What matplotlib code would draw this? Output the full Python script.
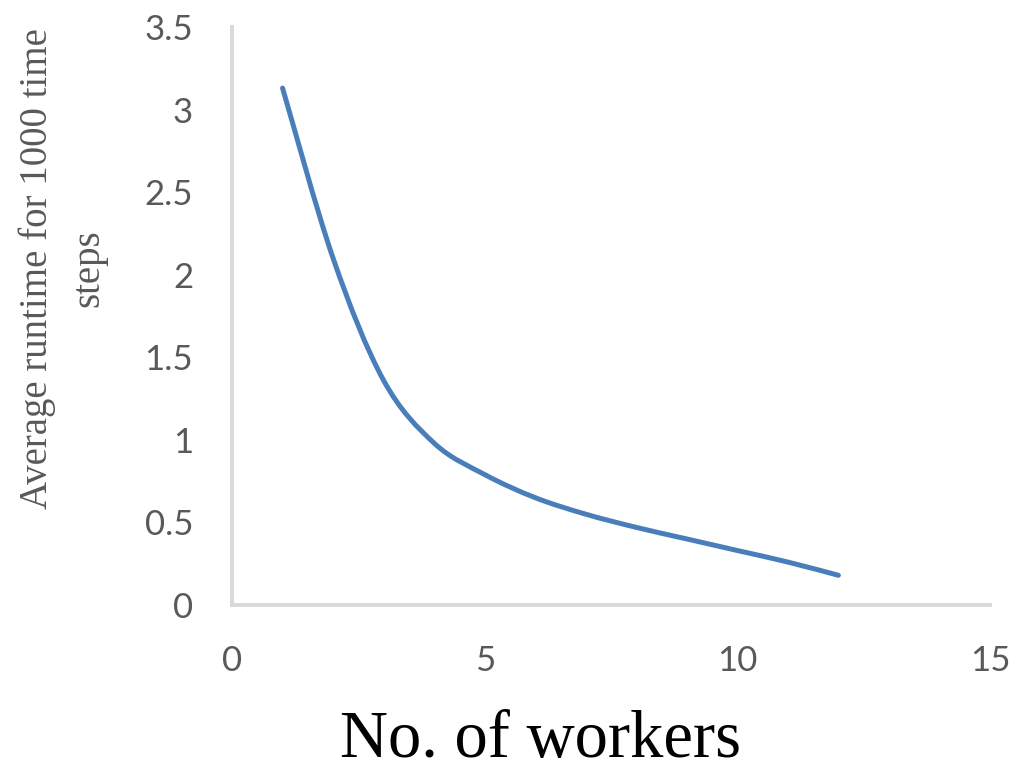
import matplotlib
matplotlib.use("Agg")
import matplotlib.pyplot as plt
from matplotlib.path import Path
from matplotlib.patches import PathPatch

# runtime measurements
workers = [1, 2, 3, 4, 5, 6, 7, 8, 9, 10, 11, 12]
runtime = [3.13, 2.1, 1.36, 0.98, 0.79, 0.65, 0.55, 0.47, 0.40, 0.33, 0.26, 0.18]

xticks = [0, 5, 10, 15]
yticks = [0, 0.5, 1, 1.5, 2, 2.5, 3, 3.5]
ytick_labels = ["0", "0.5", "1", "1.5", "2", "2.5", "3", "3.5"]

LINE = "#4a7ebb"
AXIS = "#d9d9d9"
TICK = "#595959"


def smooth_path(xs, ys):
    # cubic bezier through the points, spreadsheet-style smoothing
    pts = list(zip(xs, ys))
    n = len(pts)
    verts = [pts[0]]
    codes = [Path.MOVETO]
    for i in range(n - 1):
        p0 = pts[max(i - 1, 0)]
        p1 = pts[i]
        p2 = pts[i + 1]
        p3 = pts[min(i + 2, n - 1)]
        c1 = (p1[0] + (p2[0] - p0[0]) / 6, p1[1] + (p2[1] - p0[1]) / 6)
        c2 = (p2[0] - (p3[0] - p1[0]) / 6, p2[1] - (p3[1] - p1[1]) / 6)
        verts += [c1, c2, p2]
        codes += [Path.CURVE4] * 3
    return Path(verts, codes)


fig = plt.figure(figsize=(10.19, 7.71), dpi=100)
ax = fig.add_axes([0.2277, 0.2153, 0.7438, 0.7497])

ax.add_patch(PathPatch(smooth_path(workers, runtime), facecolor="none",
                       edgecolor=LINE, lw=3.6, capstyle="round"))

ax.set_xlim(0, 15)
ax.set_ylim(0, 3.5)
ax.set_xticks(xticks)
ax.set_yticks(yticks)
ax.set_yticklabels(ytick_labels)

for s in ["top", "right"]:
    ax.spines[s].set_visible(False)
for s in ["left", "bottom"]:
    ax.spines[s].set_color(AXIS)
    ax.spines[s].set_linewidth(2.8)

ax.tick_params(axis="both", length=0, labelsize=25, labelcolor=TICK)
ax.tick_params(axis="y", pad=28)
ax.tick_params(axis="x", pad=29)
for lab in ax.get_xticklabels() + ax.get_yticklabels():
    lab.set_family("Lato")

fig.text(0.53, 0.04, "No. of workers", ha="center", va="center",
         family="Liberation Serif", fontsize=48)
fig.text(0.062, 0.652, "Average runtime for 1000 time\nsteps", ha="center",
         va="center", rotation=90, family="Liberation Serif", fontsize=28,
         color=TICK, linespacing=1.5, multialignment="center")

fig.savefig("out.png", dpi=100)
